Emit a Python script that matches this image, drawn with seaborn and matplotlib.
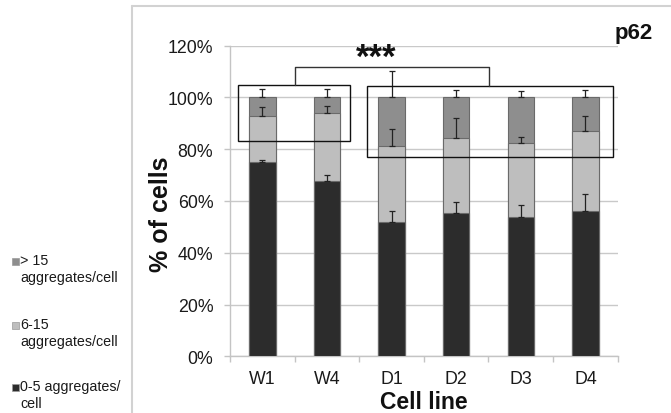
import matplotlib
matplotlib.use("Agg")
import matplotlib.pyplot as plt
from matplotlib.lines import Line2D
from matplotlib.patches import Rectangle
import numpy as np
import pandas as pd
import seaborn as sns

# Cell lines and the share of cells per aggregate class (%)
cell_lines = ["W1", "W4", "D1", "D2", "D3", "D4"]
low_0_5 = [75.1, 67.8, 51.9, 55.2, 53.8, 56.0]
mid_6_15 = [17.6, 26.3, 29.4, 29.0, 28.6, 31.1]
high_gt15 = [7.3, 5.9, 18.7, 15.8, 17.6, 12.9]

# Upper error bars (SD, %)
err_low = [0.8, 2.2, 4.3, 4.6, 4.7, 6.7]
err_mid = [3.8, 2.6, 6.6, 7.7, 2.5, 5.7]
err_high = [3.1, 3.1, 10.4, 2.8, 2.5, 2.8]

series_labels = ["> 15\naggregates/cell", "6-15\naggregates/cell", "0-5 aggregates/\ncell"]
series_colors = ["#8e8e8e", "#bebebe", "#2c2c2c"]
y_ticks = [0, 20, 40, 60, 80, 100, 120]

df = pd.DataFrame({
    "line": cell_lines,
    "low": low_0_5,
    "mid": mid_6_15,
    "high": high_gt15,
})
df["cum_low"] = df["low"]
df["cum_mid"] = df["low"] + df["mid"]
df["cum_high"] = df["cum_mid"] + df["high"]

sns.set_theme(style="white")
plt.rcParams["font.family"] = ["Liberation Sans", "DejaVu Sans"]

fig = plt.figure(figsize=(6.71, 4.14), dpi=100)
ax = fig.add_axes([0.3428, 0.1370, 0.5778, 0.7502])

bar_kw = dict(width=0.41, edgecolor="#6a6a6a", linewidth=0.8, errorbar=None, ax=ax)
sns.barplot(data=df, x="line", y="cum_high", color=series_colors[0], zorder=2, **bar_kw)
sns.barplot(data=df, x="line", y="cum_mid", color=series_colors[1], zorder=3, **bar_kw)
sns.barplot(data=df, x="line", y="cum_low", color=series_colors[2], zorder=4, **bar_kw)

xpos = np.arange(len(cell_lines))
for tops, errs in [(df["cum_low"], err_low), (df["cum_mid"], err_mid), (df["cum_high"], err_high)]:
    ax.errorbar(xpos, tops, yerr=[np.zeros(len(errs)), errs], fmt="none",
                ecolor="#222222", elinewidth=0.9, capsize=2, capthick=0.9, zorder=6)

ax.set_xlim(-0.5, 5.5)
ax.set_ylim(0, 120)
ax.set_yticks(y_ticks)
ax.set_yticklabels([f"{v}%" for v in y_ticks])
ax.yaxis.grid(True, color="#c9c9c9", linewidth=1.0, zorder=0)
ax.set_axisbelow(True)
for side in ["top", "right"]:
    ax.spines[side].set_visible(False)
for side in ["left", "bottom"]:
    ax.spines[side].set_color("#c4c4c4")
    ax.spines[side].set_linewidth(1.0)

ax.tick_params(axis="y", which="major", length=4, width=1.0, color="#c4c4c4",
               pad=8, labelsize=12.8, labelcolor="#1a1a1a", left=True)
ax.set_xticks(np.arange(-0.5, 6.0, 1.0), minor=True)
ax.tick_params(axis="x", which="minor", length=4, width=1.0, color="#c4c4c4", bottom=True)
ax.tick_params(axis="x", which="major", length=0, pad=10, labelsize=12.8, labelcolor="#1a1a1a")

ax.set_xlabel("Cell line", fontsize=16.5, fontweight="bold", color="#111111")
ax.xaxis.set_label_coords(0.5, -0.108)
ax.set_ylabel("% of cells", fontsize=18, fontweight="bold", color="#111111")
ax.yaxis.set_label_coords(-0.148, 0.461)

# Group boxes and significance bracket
box_kw = dict(fill=False, edgecolor="#111111", linewidth=1.0, zorder=7, clip_on=False)
ax.add_patch(Rectangle((-0.37, 83.0), 1.73, 21.7, **box_kw))
ax.add_patch(Rectangle((1.625, 76.9), 3.80, 27.6, **box_kw))
ax.plot([0.511, 0.511, 3.514, 3.514], [104.7, 111.6, 111.6, 104.5],
        color="#333333", linewidth=1.0, zorder=7, clip_on=False)
ax.text(1.76, 115.5, "***", ha="center", va="center", fontsize=25,
        fontweight="bold", color="#111111")

fig.text(0.9735, 0.918, "p62", ha="right", va="center", fontsize=16,
         fontweight="bold", color="#111111")

# Outer frame of the chart area
frame_c = "#d2d2d2"
fig.add_artist(Line2D([0.1967, 1.0], [0.982, 0.982], color=frame_c, linewidth=1.5,
                      transform=fig.transFigure))
fig.add_artist(Line2D([0.1967, 0.1967], [0.0, 0.982], color=frame_c, linewidth=1.5,
                      transform=fig.transFigure))

# Legend on the left
legend_y = [262, 326, 388]
for label, color, ypx in zip(series_labels, series_colors, legend_y):
    yf = 1 - ypx / 414
    fig.add_artist(Rectangle((12 / 671, yf - 3.5 / 414), 7 / 671, 7 / 414,
                             facecolor=color, edgecolor="#9a9a9a", linewidth=0.5,
                             transform=fig.transFigure))
    fig.text(20.5 / 671, yf + 8 / 414, label, ha="left", va="top", fontsize=10.3,
             color="#1a1a1a", linespacing=1.3)

fig.savefig("out.png", dpi=100)
